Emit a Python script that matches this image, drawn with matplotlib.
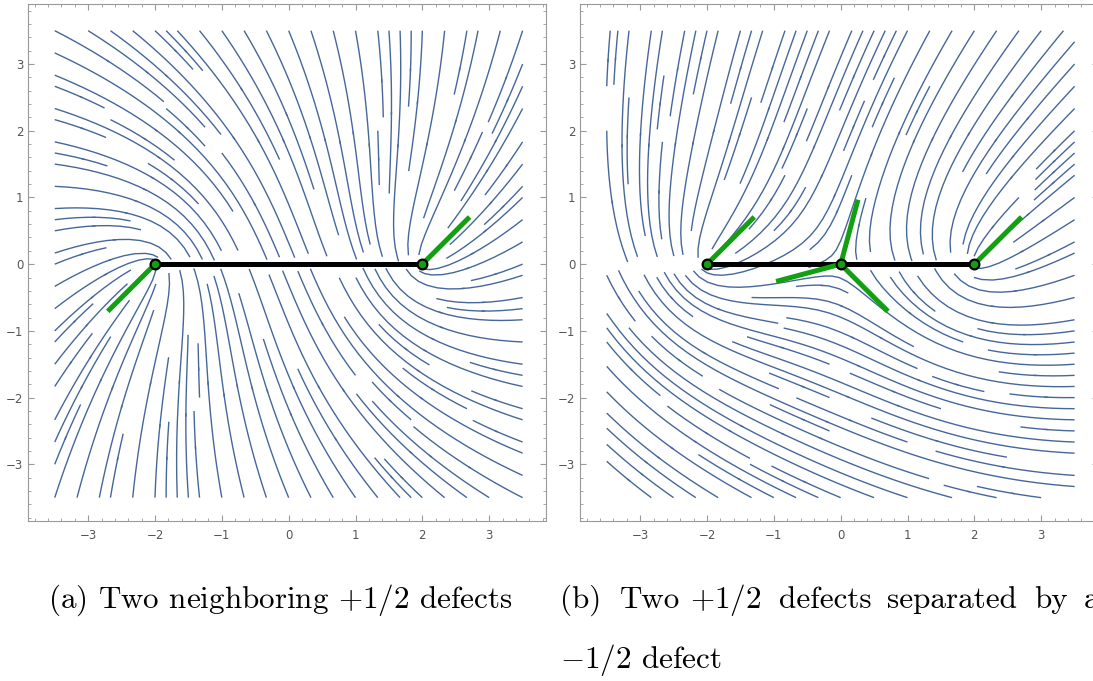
import numpy as np
import matplotlib
matplotlib.use("Agg")
import matplotlib.pyplot as plt
from matplotlib.ticker import MultipleLocator

plt.rcParams['mathtext.fontset'] = 'cm'

# defect positions (on the x axis) and topological charges
defects_a = [-2.0, 2.0]
charges_a = [0.5, 0.5]
defects_b = [-2.0, 0.0, 2.0]
charges_b = [0.5, -0.5, 0.5]

# orientation of the green arms drawn at each defect (degrees)
arms_a = [[225], [45]]
arms_b = [[45], [75, 195, 315], [45]]
arm_len = 1.0

theta0 = np.pi / 8  # global rotation of the director
tick_vals = [-3, -2, -1, 0, 1, 2, 3]

caption_a = r"(a) Two neighboring $+1/2$ defects"
# justified first line of caption (b): word and left edge in pixels
caption_b_words = ["(b)", "Two", r"$+1/2$", "defects", "separated", "by", "a"]
caption_b_x = [560, 620, 690, 779, 887, 1034, 1084]
caption_b_line2 = r"$-1/2$ defect"

line_col = '#46679a'
green = '#12a012'

# director field on a grid
xs = np.linspace(-3.5, 3.5, 241)
ys = np.linspace(-3.5, 3.5, 241)
X, Y = np.meshgrid(xs, ys)


def director(pos, q):
    th = np.full_like(X, theta0)
    for x0, k in zip(pos, q):
        th += k * np.arctan2(Y, X - x0)
    U, V = np.cos(th), np.sin(th)
    # the director flips sign across the branch cut; stop streamlines there
    flip = (U[1:] * U[:-1] + V[1:] * V[:-1]) < 0
    bad = np.zeros_like(U, dtype=bool)
    bad[1:] |= flip
    bad[:-1] |= flip
    return np.ma.masked_array(U, bad), np.ma.masked_array(V, bad)


fig = plt.figure(figsize=(10.93, 6.81), dpi=100)
W, H = 1093, 681
ax1 = fig.add_axes([28 / W, (H - 521) / H, 518 / W, 517 / H])
ax2 = fig.add_axes([580 / W, (H - 521) / H, 518 / W, 517 / H])

for ax, pos, q, arms in [(ax1, defects_a, charges_a, arms_a),
                         (ax2, defects_b, charges_b, arms_b)]:
    U, V = director(pos, q)
    ax.streamplot(X, Y, U, V, density=1.45, color=line_col, linewidth=1.0,
                  arrowstyle='-', broken_streamlines=True)

    # branch line between the outer defects
    ax.plot([pos[0], pos[-1]], [0, 0], color='black', lw=3.6,
            solid_capstyle='butt', zorder=4)
    for x0, angs in zip(pos, arms):
        for a in angs:
            t = np.deg2rad(a)
            ax.plot([x0, x0 + arm_len * np.cos(t)], [0, arm_len * np.sin(t)],
                    color=green, lw=3.6, solid_capstyle='butt', zorder=5)
    ax.plot(pos, np.zeros(len(pos)), 'o', ms=7, mfc=green, mec='black',
            mew=1.6, zorder=6)

    ax.set_xlim(-3.9, 3.85)
    ax.set_ylim(-3.85, 3.9)
    ax.set_xticks(tick_vals)
    ax.set_yticks(tick_vals)
    ax.xaxis.set_minor_locator(MultipleLocator(0.2))
    ax.yaxis.set_minor_locator(MultipleLocator(0.2))
    ax.tick_params(which='both', direction='in', top=True, right=True,
                   color='#999999', labelcolor='#555555', labelsize=8.5)
    ax.tick_params(which='major', length=4, width=0.8)
    ax.tick_params(which='minor', length=2, width=0.6)
    ax.tick_params(axis='x', pad=6)
    for s in ax.spines.values():
        s.set_color('#999999')
        s.set_linewidth(0.8)

cap = dict(fontsize=22.4, family='cmr10', va='baseline', ha='left')
fig.text(48 / W, 1 - 608 / H, caption_a, **cap)
for word, xp in zip(caption_b_words, caption_b_x):
    fig.text(xp / W, 1 - 608 / H, word, **cap)
fig.text(560 / W, 1 - 668 / H, caption_b_line2, **cap)

fig.savefig('out.png', dpi=100)
